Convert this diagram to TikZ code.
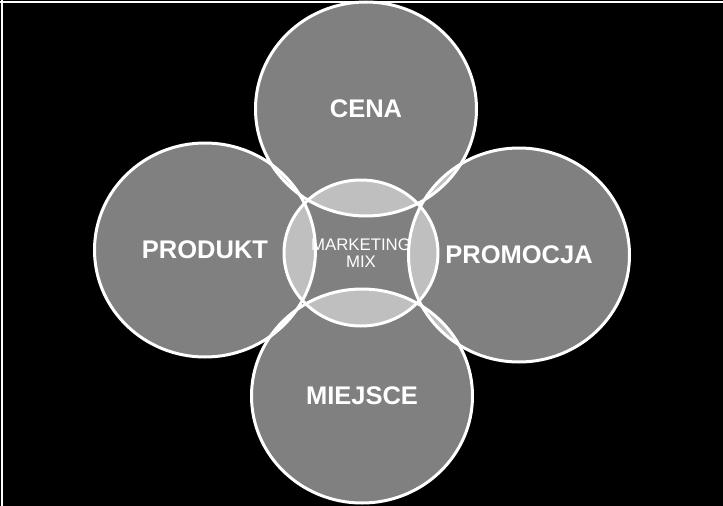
\documentclass[tikz,border=0pt]{standalone}
\usepackage{fontspec}
\setmainfont{Liberation Sans}
\usetikzlibrary{shapes.geometric}
\begin{document}
\begin{tikzpicture}[x=1pt,y=-1pt,
  petal/.style={ellipse, draw=white, line width=3pt, fill=white, fill opacity=0.5,
    text opacity=1, text=white, inner sep=0pt,
    minimum width=221pt, minimum height=214pt,
    font=\fontsize{25.5}{30}\selectfont\bfseries},
  core/.style={ellipse, draw=white, line width=3pt, fill=white, fill opacity=0.5,
    text opacity=1, text=white, inner sep=0pt,
    minimum width=154pt, minimum height=146pt, align=center,
    font=\fontsize{16.8}{17}\selectfont}]
\fill[black] (0,0) rectangle (723,506);
\useasboundingbox (0,0) rectangle (723,506);
\draw[white, line width=2pt] (0,2) -- (723,2);
\draw[white, line width=2pt] (2,0) -- (2,506);
\node[petal] (cena) at (366,109) {CENA};
\node[petal] (produkt) at (205,250) {PRODUKT};
\node[petal] (promocja) at (519,255) {PROMOCJA};
\node[petal] (miejsce) at (362,396) {MIEJSCE};
\node[core] (mix) at (361,253) {MARKETING\\MIX};
\end{tikzpicture}
\end{document}
